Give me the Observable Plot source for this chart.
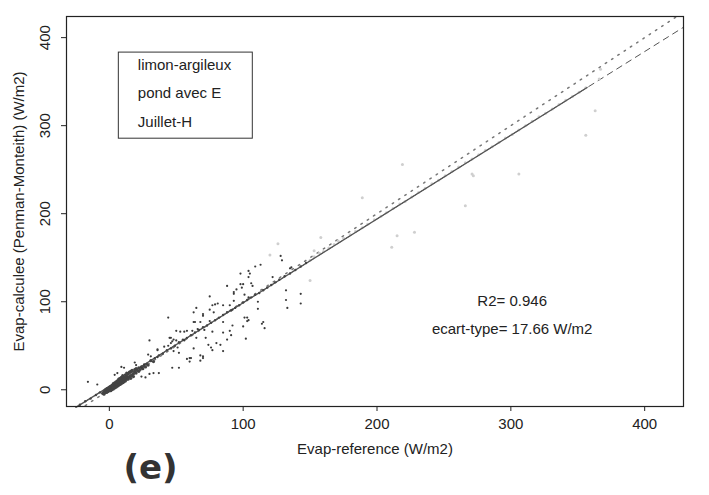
<!DOCTYPE html>
<html><head><meta charset="utf-8">
<script src="https://cdn.jsdelivr.net/npm/d3@7"></script>
<script src="https://cdn.jsdelivr.net/npm/@observablehq/plot@0.6"></script>
<style>html,body{margin:0;padding:0;background:#fff;} svg{display:block}</style>
</head><body><div id="chart"></div>
<script>
const xTicks = [0, 100, 200, 300, 400];
const yTicks = [0, 100, 200, 300, 400];
const legendLines = ["limon-argileux", "pond avec E", "Juillet-H"];
const statLines = ["R2= 0.946", "ecart-type= 17.66 W/m2"];
const xLabel = "Evap-reference (W/m2)";
const yLabel = "Evap-calculee (Penman-Monteith) (W/m2)";
const panelLabel = "(e)";
const fitIntercept = 3.8;
const fitSlope = 0.951;
const fitSolidRange = [-25, 357];
const fullRange = [-32, 429];

// dense cluster near the origin
const clusterPoints = [
  [-5,-4],[-4,-5],[-4,-2],[-3,-3],[-3,0],[-2,-1],[-2,-3],[-2,1],[-1,0],[-1,-2],[-1,2],[0,1],[0,-1],[0,3],[0,0],
  [1,1],[1,3],[1,-1],[1,4],[2,2],[2,0],[2,4],[2,5],[3,3],[3,1],[3,5],[3,7],[4,4],[4,2],[4,6],[4,8],[5,5],[5,3],
  [5,7],[5,9],[6,6],[6,4],[6,8],[6,10],[7,7],[7,5],[7,9],[7,12],[8,8],[8,6],[8,11],[8,13],[9,9],[9,7],[9,11],
  [9,14],[10,10],[10,8],[10,13],[10,16],[11,11],[11,9],[11,14],[12,13],[12,10],[12,17],[13,12],[13,15],[13,19],
  [14,14],[14,12],[14,18],[15,15],[15,20],[16,16],[16,13],[16,21],[17,17],[17,22],[18,18],[18,15],[19,20],
  [19,23],[20,19],[20,24],[21,22],[22,21],[22,25],[23,23],[24,26],[25,24],[26,27],[27,26],[28,29],[29,28],[31,33],[33,32]
];
// points lying on the fitted line
const linePoints = [
  [-22,-17],[-18,-13],[-14,-10],[-10,-6],[-7,-3],
  [34,36],[37,39],[40,41],[43,45],[46,47],[49,50],[52,54],[55,57],[58,59],[61,62],[64,65],[67,68],[70,71],
  [73,73],[76,76],[79,79],[82,82],[85,85],[88,88],[91,90],[94,93],[97,96],[100,99],[103,102],[106,105],
  [109,108],[112,110],[115,113],[118,116],[121,119],[124,122],[127,125],[131,129],[135,132],[139,136],[143,140],[147,144]
];
// scattered dark points
const scatterPoints = [
  [98,132],[104,128],[88,118],[98,120],[93,109],[101,108],[104,105],[75,106],[79,97],[77,96],[81,98],[85,96],
  [90,96],[65,93],[63,88],[75,91],[70,84],[78,88],[44,82],[63,77],[68,77],[75,78],[85,77],[92,73],[103,78],
  [50,67],[53,66],[56,66],[58,67],[62,67],[66,69],[71,68],[77,66],[85,65],[90,67],[91,62],[45,59],[47,55],
  [46,53],[50,56],[56,56],[65,59],[72,59],[88,57],[74,51],[76,48],[80,53],[83,51],[77,45],[85,44],[63,47],
  [36,46],[41,49],[48,44],[52,42],[61,36],[58,35],[68,39],[70,36],
  [104,135],[105,132],[109,140],[113,142],[128,152],[129,147],[122,128],[135,138],[95,114],[99,116],[106,121],
  [107,118],[132,113],[143,109],[132,102],[143,98],[133,93],[111,100],[111,92],[103,82],[104,79],[114,75],
  [116,70],[100,72],[93,101],[92,91],
  [30,56],[44,50],[29,40],[31,38],[36,37],[9,26],[11,25],[19,31],[20,28],[4,17],[6,19],[24,25],[26,29],
  [30,18],[33,19],[37,19],[24,15],[27,14],[-16,9],[-9,6],[46,59],[48,57],[36,45],[47,25],[52,25],[60,32],
  [60,36],[68,33],[70,38],[51,48],[64,77],[70,86],[93,111],[100,120],[136,139],[102,58],[101,82],[115,77]
];
// faint (light grey) points
const faintPoints = [
  [150,147],[153,151],[157,155],[160,157],[164,161],[168,165],[171,169],[175,172],[180,176],[184,180],
  [189,184],[193,188],[198,193],[203,197],[207,201],[212,206],[217,211],[221,214],[226,219],[231,224],
  [236,229],[241,234],[246,238],[251,243],[256,248],[261,253],[266,258],[271,262],[276,267],[281,272],
  [286,276],[291,281],[296,286],[301,290],[306,295],[311,300],[316,305],[321,310],[326,314],[331,319],
  [336,324],[341,329],[346,333],[351,338],[356,343],
  [126,166],[120,153],[150,124],[153,158],[158,173],[189,218],[219,256],[215,175],[228,179],[211,162],
  [266,209],[272,243],[363,317],[356,289],[367,364],[306,245],[271,245],[366,353]
];

const fitAt = x => ({x, y: fitIntercept + fitSlope * x});
const fitSolid = fitSolidRange.map(fitAt);
const fitFull = fullRange.map(fitAt);
const oneToOne = fullRange.map(x => ({x, y: x}));

const font = "'Liberation Sans', Arial, Helvetica, sans-serif";

const chart = Plot.plot({
  width: 709,
  height: 495,
  marginLeft: 66,
  marginRight: 26,
  marginTop: 16,
  marginBottom: 89,
  style: {fontFamily: font, fontSize: "15px", color: "#222", background: "#fff"},
  x: {domain: [-32, 429]},
  y: {domain: [-19, 424]},
  marks: [
    Plot.line(oneToOne, {x: "x", y: "y", stroke: "#777", strokeWidth: 1.5, strokeDasharray: "1.5,6", clip: true}),
    Plot.line(fitFull, {x: "x", y: "y", stroke: "#555", strokeWidth: 1, strokeDasharray: "6,5", clip: true}),
    Plot.dot(faintPoints, {x: d => d[0], y: d => d[1], r: 1.5, fill: "#cfcfcf"}),
    Plot.line(fitSolid, {x: "x", y: "y", stroke: "#555", strokeWidth: 1.3}),
    Plot.dot(clusterPoints, {x: d => d[0], y: d => d[1], r: 1.6, fill: "#444"}),
    Plot.dot(linePoints, {x: d => d[0], y: d => d[1], r: 1.2, fill: "#444"}),
    Plot.dot(scatterPoints, {x: d => d[0], y: d => d[1], r: 1.1, fill: "#3a3a3a"}),
    Plot.frame({stroke: "#222", strokeWidth: 1.2}),
    Plot.axisX({ticks: xTicks, tickSize: 5, tickPadding: 7, label: null, fontSize: 15}),
    Plot.axisY({ticks: yTicks, tickSize: 5, tickFormat: () => "", label: null}),
    Plot.text(yTicks, {y: d => d, text: d => String(d), frameAnchor: "left", textAnchor: "middle", lineAnchor: "middle", dx: -21, rotate: -90, fontSize: 15, fill: "#222"}),
    Plot.text([yLabel], {frameAnchor: "left", textAnchor: "middle", lineAnchor: "middle", dx: -47, rotate: -90, fontSize: 15, fill: "#222"}),
    Plot.text([xLabel], {frameAnchor: "bottom", textAnchor: "middle", dy: 47, fontSize: 15, fill: "#222"}),
    Plot.rect([0], {x1: 7.1, x2: 107.2, y1: 285.2, y2: 383, fill: "none", stroke: "#333", strokeWidth: 1}),
    Plot.text(legendLines, {x: 21.3, y: (d, i) => [368.2, 336.4, 303.4][i], text: d => d, textAnchor: "start", fontSize: 15, fill: "#222"}),
    Plot.text(statLines, {x: 301, y: (d, i) => [101, 69.3][i], text: d => d, fontSize: 15, fill: "#222"}),
    Plot.text([panelLabel], {frameAnchor: "bottom-left", textAnchor: "middle", lineAnchor: "middle", dx: 84, dy: 62, fontSize: 34, fontWeight: "bold", fontFamily: "'DejaVu Sans', sans-serif", fill: "#333"})
  ]
});
document.getElementById("chart").appendChild(chart);
</script>
</body></html>
